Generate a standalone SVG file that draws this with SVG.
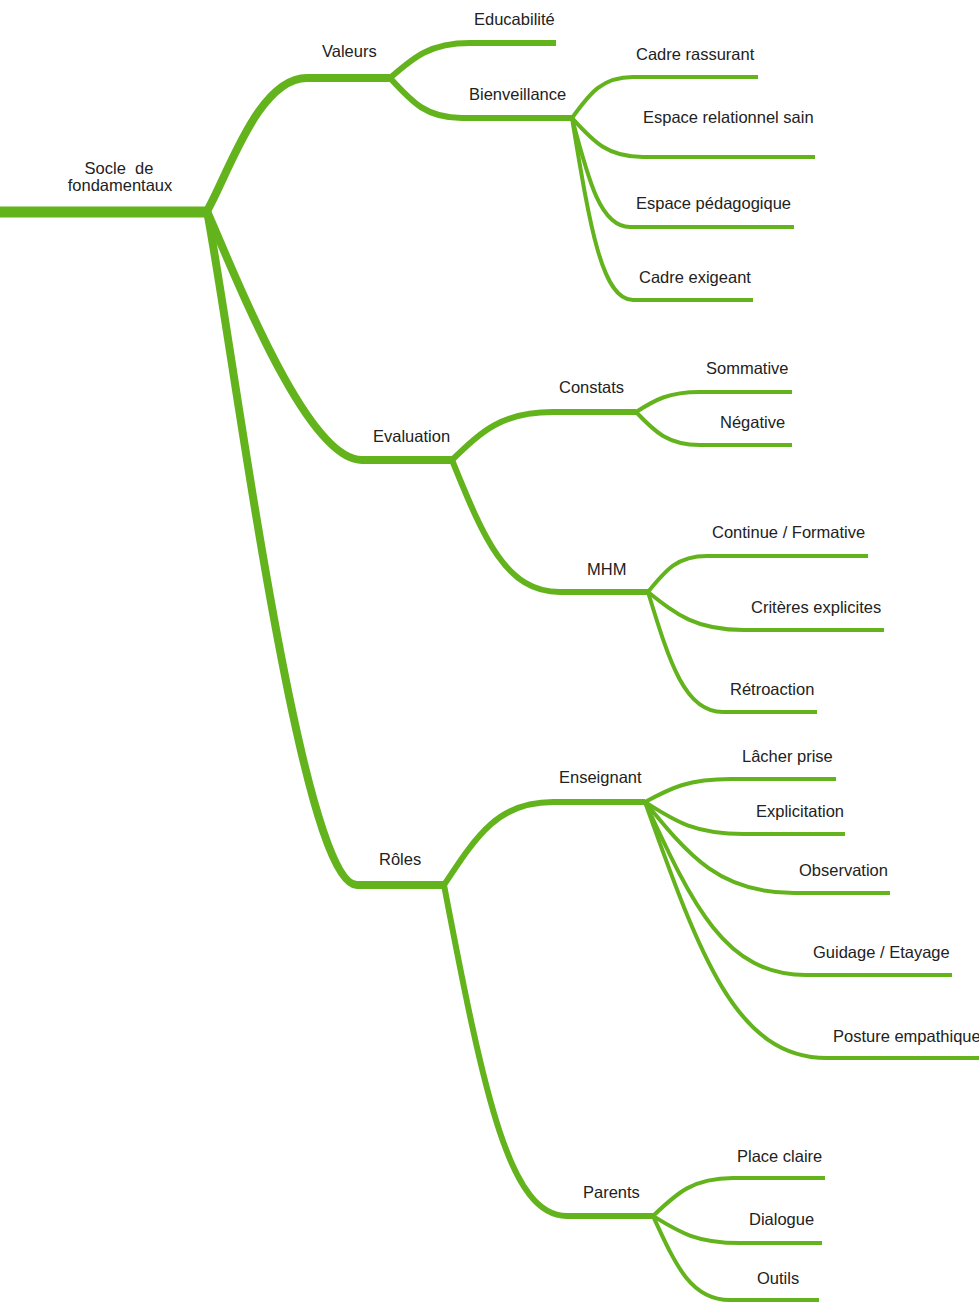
<svg xmlns="http://www.w3.org/2000/svg" width="979" height="1302" viewBox="0 0 979 1302">
<style>
.c{fill:none;stroke:#63b31d;stroke-linejoin:round;stroke-linecap:butt}
.w0{stroke-width:11}.w1{stroke-width:8}.w2{stroke-width:6}.w3{stroke-width:4}
text{font-family:"Liberation Sans",Arial,sans-serif;font-size:16.5px;fill:#222;white-space:pre}
.m{text-anchor:middle}
</style>
<rect width="979" height="1302" fill="#fff"/>
<g id="connectors">
<path class="c w0" d="M0,212 L208,212"/>
<path class="c w1" d="M207,211 C228,175 258,78 307,78 L390,78"/>
<path class="c w1" d="M207,211 C245,300 310,460 362,460 L452,460"/>
<path class="c w1" d="M207,211 C232,340 300,885 357,885 L444,885"/>
<path class="c w2" d="M390,78 C414,57 430,43 470,43 L556,43"/>
<path class="c w2" d="M390,78 C412,102 426,118 462,118 L572,118"/>
<path class="c w3" d="M572,118 C590,93 602,77 633,77 L758,77"/>
<path class="c w3" d="M572,118 C593,141 607,157 643,157 L815,157"/>
<path class="c w3" d="M572,118 C589,183 601,227 630,227 L794,227"/>
<path class="c w3" d="M572,118 C590,227 602,300 633,300 L753,300"/>
<path class="c w2" d="M452,460 C482,431 502,412 553,412 L636,412"/>
<path class="c w2" d="M452,460 C484,539 506,592 560,592 L648,592"/>
<path class="c w3" d="M636,412 C655,400 668,392 700,392 L792,392"/>
<path class="c w3" d="M636,412 C655,432 668,445 700,445 L792,445"/>
<path class="c w3" d="M648,592 C666,570 677,556 707,556 L868,556"/>
<path class="c w3" d="M648,592 C677,615 696,630 744,630 L884,630"/>
<path class="c w3" d="M648,592 C670,664 685,712 723,712 L817,712"/>
<path class="c w2" d="M444,885 C477,835 498,802 553,802 L645,802"/>
<path class="c w2" d="M444,885 C485,1100 510,1216 567,1216 L653,1216"/>
<path class="c w3" d="M645,802 C671,788 688,779 731,779 L836,779"/>
<path class="c w3" d="M645,802 C675,821 694,834 744,834 L845,834"/>
<path class="c w3" d="M645,802 C690,857 720,893 794,893 L890,893"/>
<path class="c w3" d="M645,802 C693,906 725,975 806,975 L952,975"/>
<path class="c w3" d="M645,802 C700,956 736,1058 827,1058 L979,1058"/>
<path class="c w3" d="M653,1216 C677,1193 693,1178 733,1178 L825,1178"/>
<path class="c w3" d="M653,1216 C679,1232 696,1243 740,1243 L822,1243"/>
<path class="c w3" d="M653,1216 C676,1266 691,1300 730,1300 L819,1300"/>
</g>
<g id="n-socle"><text class="m" x="119" y="174">Socle  de</text><text class="m" x="120" y="191">fondamentaux</text></g>
<g id="n-valeurs"><text x="322" y="57">Valeurs</text></g>
<g id="n-educabilite"><text x="474" y="25">Educabilité</text></g>
<g id="n-bienveillance"><text x="469" y="100">Bienveillance</text></g>
<g id="n-cadre-rassurant"><text x="636" y="60">Cadre rassurant</text></g>
<g id="n-espace-relationnel"><text x="643" y="123">Espace relationnel sain</text></g>
<g id="n-espace-pedagogique"><text x="636" y="209">Espace pédagogique</text></g>
<g id="n-cadre-exigeant"><text x="639" y="283">Cadre exigeant</text></g>
<g id="n-evaluation"><text x="373" y="442">Evaluation</text></g>
<g id="n-constats"><text x="559" y="393">Constats</text></g>
<g id="n-sommative"><text x="706" y="374">Sommative</text></g>
<g id="n-negative"><text x="720" y="428">Négative</text></g>
<g id="n-mhm"><text x="587" y="575">MHM</text></g>
<g id="n-continue"><text x="712" y="538">Continue / Formative</text></g>
<g id="n-criteres"><text x="751" y="613">Critères explicites</text></g>
<g id="n-retroaction"><text x="730" y="695">Rétroaction</text></g>
<g id="n-roles"><text x="379" y="865">Rôles</text></g>
<g id="n-enseignant"><text x="559" y="783">Enseignant</text></g>
<g id="n-lacher"><text x="742" y="762">Lâcher prise</text></g>
<g id="n-explicitation"><text x="756" y="817">Explicitation</text></g>
<g id="n-observation"><text x="799" y="876">Observation</text></g>
<g id="n-guidage"><text x="813" y="958">Guidage / Etayage</text></g>
<g id="n-posture"><text x="833" y="1042">Posture empathique</text></g>
<g id="n-parents"><text x="583" y="1198">Parents</text></g>
<g id="n-place"><text x="737" y="1162">Place claire</text></g>
<g id="n-dialogue"><text x="749" y="1225">Dialogue</text></g>
<g id="n-outils"><text x="757" y="1284">Outils</text></g>
</svg>
